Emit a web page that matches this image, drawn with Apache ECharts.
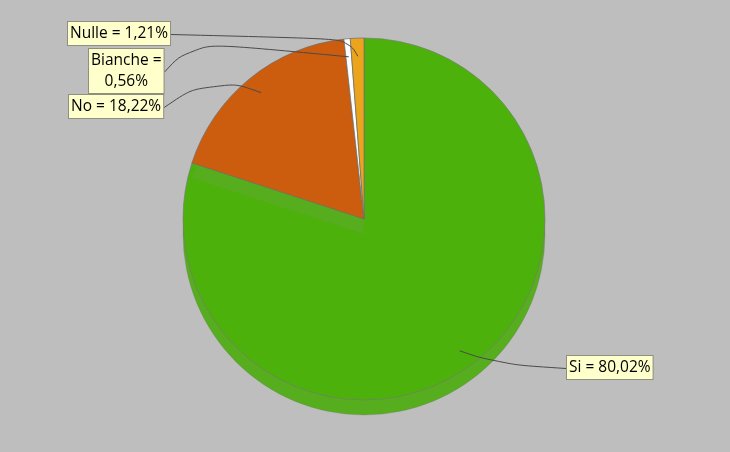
<!DOCTYPE html>
<html>
<head>
<meta charset="utf-8">
<script src="https://cdn.jsdelivr.net/npm/echarts@6/dist/echarts.min.js"></script>
<style>html,body{margin:0;padding:0;background:#bebebe;}#c{width:730px;height:452px;}</style>
</head>
<body>
<div id="c"></div>
<script>
// ---- data ----
const categories = ['Si', 'No', 'Bianche', 'Nulle'];
const values = [80.02, 18.22, 0.56, 1.21];
const labelTexts = ['Si = 80,02%', 'No = 18,22%', 'Bianche =\n0,56%', 'Nulle = 1,21%'];

// ---- styles / layout ----
const topColors = ['#4db10b', '#cc5c0e', '#ffffff', '#eba41c'];
const wallColor = '#56ad1d';
const C = [364, 219];
const WALL_C = [364, 234];
const R = 181;
// label box top-left, side the line enters, and leader-line bend point (layout, not data)
const labelBox = {
  'Si': {x: 566, y: 356, side: 'left', bend: [498, 364]},
  'No': {x: 68, y: 95, side: 'right', bend: [212, 75]},
  'Bianche': {x: 88, y: 49, side: 'right', bend: [192, 42]},
  'Nulle': {x: 67, y: 22, side: 'right', bend: [348, 39]}
};

const chart = echarts.init(document.getElementById('c'), null, {renderer: 'canvas'});

function mk(colorFn) {
  return categories.map((n, i) => ({name: n, value: values[i], itemStyle: {color: colorFn(i)}}));
}
const baseSeries = {
  type: 'pie', startAngle: 90, clockwise: true, silent: true, animation: false,
  label: {show: false}, labelLine: {show: false}, emphasis: {disabled: true}
};
const clear = 'rgba(0,0,0,0)';

chart.setOption({
  backgroundColor: '#bebebe',
  series: [
    // side wall
    Object.assign({}, baseSeries, {
      z: 1, center: WALL_C, radius: [0, R],
      itemStyle: {borderColor: 'rgba(120,120,120,0.5)', borderWidth: 0.6},
      data: mk(() => wallColor)
    }),
    // green top face
    Object.assign({}, baseSeries, {
      z: 2, center: C, radius: [0, R],
      data: mk(i => i === 0 ? topColors[0] : clear).map((d, i) => {
        d.itemStyle.borderWidth = i === 0 ? 0.8 : 0;
        d.itemStyle.borderColor = 'rgba(120,120,120,0.8)';
        return d;
      })
    }),
    // cut strip under the other slices
    Object.assign({}, baseSeries, {
      z: 3, center: WALL_C, radius: [0, R],
      itemStyle: {borderWidth: 0},
      data: mk(i => i === 0 ? clear : wallColor)
    }),
    // top faces of the other slices
    Object.assign({}, baseSeries, {
      z: 4, center: C, radius: [0, R],
      data: mk(i => i === 0 ? clear : topColors[i]).map((d, i) => {
        d.itemStyle.borderWidth = i === 0 ? 0 : 0.8;
        d.itemStyle.borderColor = 'rgba(110,110,110,0.9)';
        return d;
      })
    }),
    // labels + leader lines (transparent slices)
    Object.assign({}, baseSeries, {
      z: 5, center: C, radius: [0, R],
      itemStyle: {color: clear, borderWidth: 0},
      data: mk(() => clear),
      label: {
        show: true, position: 'outside',
        formatter: p => labelTexts[p.dataIndex],
        fontFamily: 'Open Sans', fontSize: 15.5, color: '#000', lineHeight: 21,
        align: 'center',
        backgroundColor: '#ffffcc', borderColor: '#8f8f80', borderWidth: 1,
        padding: [1, 2, 1, 2]
      },
      labelLine: {show: true, smooth: 0.5, lineStyle: {color: '#4a4a4a', width: 1}},
      labelLayout: function (params) {
        const name = categories[params.dataIndex];
        const b = labelBox[name];
        const w = params.labelRect.width, h = params.labelRect.height;
        const p0 = params.labelLinePoints[0];
        const s = [C[0] + (p0[0] - C[0]) * 0.9, C[1] + (p0[1] - C[1]) * 0.9];
        const end = b.side === 'right' ? [b.x + w, b.y + h / 2] : [b.x, b.y + h / 2];
        return {
          x: b.x + w / 2, y: b.y,
          align: 'center', verticalAlign: 'top',
          labelLinePoints: [s, b.bend, end]
        };
      }
    })
  ]
});
</script>
</body>
</html>
